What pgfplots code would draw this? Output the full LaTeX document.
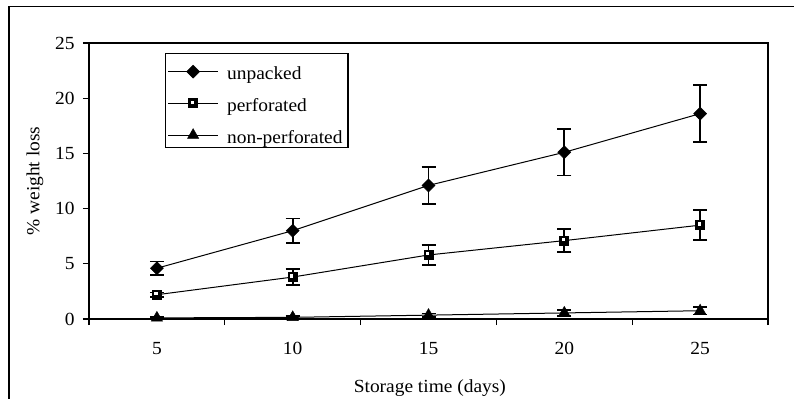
\documentclass[border=0pt]{standalone}
\usepackage{fontspec}
\setmainfont{Liberation Serif}[FakeStretch=1.05]
\usepackage{pgfplots}
\pgfplotsset{compat=1.18}
\newcommand\fs{\fontsize{18.5bp}{21bp}\selectfont}
\pgfdeclareplotmark{wsq}{%
  \begin{pgfscope}%
  \pgfsetfillcolor{black}%
  \pgfpathrectangle{\pgfpoint{-5bp}{-5bp}}{\pgfpoint{10bp}{10bp}}\pgfusepathqfill
  \end{pgfscope}%
  \begin{pgfscope}%
  \pgfsetfillcolor{white}%
  \pgfpathrectangle{\pgfpoint{-2.5bp}{-0.5bp}}{\pgfpoint{3.2bp}{3.2bp}}\pgfusepathqfill
  \end{pgfscope}}
\pgfplotstableread{
x y e
1 4.6 0.6
2 8.0 1.1
3 12.1 1.7
4 15.1 2.1
5 18.6 2.6
}\unpacked
\pgfplotstableread{
x y e
1 2.2 0.2
2 3.8 0.7
3 5.8 0.9
4 7.1 1.05
5 8.5 1.35
}\perforated
\pgfplotstableread{
x y e
1 0.1 0.1
2 0.15 0.1
3 0.35 0.15
4 0.55 0.25
5 0.75 0.35
}\nonperf
\begin{document}
\begin{tikzpicture}[x=1bp,y=1bp]
\useasboundingbox (0,0) rectangle (794,398);
\draw[line width=1.3bp] (9,-5) -- (9,391.5) -- (800,391.5);
\begin{axis}[
  at={(89bp,79bp)}, anchor=south west,
  scale only axis, width=679bp, height=276bp,
  xmin=0.5, xmax=5.5, ymin=0, ymax=25,
  xtick={1,...,5}, xticklabels={5,10,15,20,25},
  minor xtick={0.5,1.5,...,5.5},
  ytick={0,5,...,25},
  tick pos=left, tick align=outside,
  major tick length=6bp, minor tick length=6bp,
  major x tick style={draw=none},
  every tick/.style={black,line width=1.3bp},
  axis line style={line width=1.3bp},
  /pgf/number format/assume math mode=true,
  tick label style={font=\fs},
  xticklabel style={yshift=-14bp},
  yticklabel style={xshift=-5bp},
  xlabel={Storage time (days)},
  ylabel={\% weight loss},
  label style={font=\fs},
  xlabel style={at={(axis description cs:0.502,-0.2645)}, anchor=base},
  ylabel style={at={(axis description cs:-0.0795,0.5)}, anchor=center},
  legend style={at={(axis description cs:0.1119,0.9638)}, anchor=north west,
    draw=black, line width=1.3bp, font=\fs, row sep=7.8bp,
    inner xsep=2bp, inner ysep=3bp,
    nodes={inner xsep=3.5bp, inner ysep=1bp, text height=22bp, text depth=0bp}},
  legend cell align=left,
  legend image code/.code={\draw[yshift=-3bp,mark repeat=2,mark phase=2] plot coordinates {(0bp,0bp)(25bp,0bp)(50bp,0bp)};},
  error bars/error bar style={line width=1.8bp, black},
  error bars/error mark options={rotate=90, mark size=7bp, line width=1.8bp, black},
]
\addplot[black, line width=1bp, mark=square*, mark size=4.6bp, mark options={rotate=45, fill=black, line width=0.5bp},
  error bars/.cd, y dir=both, y explicit] table[x=x, y=y, y error=e] {\unpacked};
\addlegendentry{\hspace{5bp}unpacked}
\addplot[black, line width=1bp, mark=wsq, mark options={fill=black},
  error bars/.cd, y dir=both, y explicit] table[x=x, y=y, y error=e] {\perforated};
\addlegendentry{\hspace{5bp}perforated}
\addplot[black, line width=1bp, mark=triangle*, mark size=6.5bp, mark options={fill=black, line width=0.5bp},
  error bars/.cd, y dir=both, y explicit] table[x=x, y=y, y error=e] {\nonperf};
\addlegendentry{\hspace{5bp}non-perforated}
\end{axis}
\end{tikzpicture}
\end{document}
